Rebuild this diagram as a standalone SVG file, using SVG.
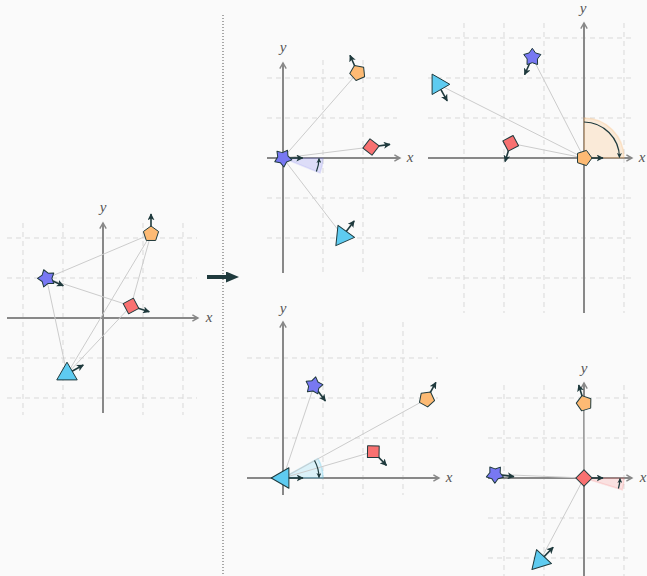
<svg xmlns="http://www.w3.org/2000/svg" xmlns:xlink="http://www.w3.org/1999/xlink" width="647" height="576" viewBox="0 0 647 576">
<style>
.grid{stroke:#d9d9d9;stroke-width:1;stroke-dasharray:5 4;fill:none}
.axis{stroke:#888;stroke-width:2;fill:none;marker-end:url(#axhead)}
.lbl{font-family:"Liberation Serif","DejaVu Serif",serif;font-style:italic;font-size:15px;fill:#555;text-anchor:middle}
.conn{stroke:#cccccc;stroke-width:1;fill:none}
.head{stroke:#1f3a3d;stroke-width:1.6;fill:none;marker-end:url(#hd)}
.arc{stroke:#1f3a3d;stroke-width:1.2;fill:none;marker-end:url(#arch)}
.sh{stroke:#1f3a3d;stroke-width:1;stroke-linejoin:round}
.pent{fill:#fdba74}.star{fill:#7878f2}.dia{fill:#f87171}.tri{fill:#5ecbf0}
</style>
<defs>
<marker id="axhead" viewBox="0 0 10 10" refX="8" refY="5" markerWidth="8" markerHeight="8" markerUnits="userSpaceOnUse" orient="auto"><path d="M1,1 L8,5 L1,9" fill="none" stroke="#888" stroke-width="1.8"/></marker>
<marker id="hd" viewBox="0 0 10 10" refX="9" refY="5" markerWidth="7" markerHeight="7" markerUnits="userSpaceOnUse" orient="auto"><path d="M0,0 L10,5 L0,10 L2.5,5 z" fill="#1f3a3d"/></marker>
<marker id="arch" viewBox="0 0 10 10" refX="9" refY="5" markerWidth="5" markerHeight="5" markerUnits="userSpaceOnUse" orient="auto"><path d="M0,0 L10,5 L0,10 L2.5,5 z" fill="#1f3a3d"/></marker>
<marker id="bighd" viewBox="0 0 10 10" refX="0" refY="5" markerWidth="13" markerHeight="11" markerUnits="userSpaceOnUse" orient="auto" preserveAspectRatio="none"><path d="M0,0 L10,5 L0,10 z" fill="#1f3a3d"/></marker>
<polygon id="pent" class="sh pent" points="0,-8 7.61,-2.47 4.7,6.47 -4.7,6.47 -7.61,-2.47"/>
<polygon id="star" class="sh star" points="0,-9 3.17,-4.37 8.56,-2.78 5.14,1.67 5.29,7.28 0,5.4 -5.29,7.28 -5.14,1.67 -8.56,-2.78 -3.17,-4.37"/>
<rect id="dia" class="sh dia" x="-5.8" y="-5.8" width="11.6" height="11.6"/>
<polygon id="tri" class="sh tri" points="0,-11.8 10.22,5.9 -10.22,5.9"/>
</defs>
<rect width="647" height="576" fill="#fafafa"/>

<!-- separator and transition arrow -->
<line x1="223" y1="15" x2="223" y2="576" stroke="#555" stroke-width="1" stroke-dasharray="1 2"/>
<line x1="207" y1="277" x2="226" y2="277" stroke="#1f3a3d" stroke-width="4" marker-end="url(#bighd)"/>

<!-- LEFT FRAME -->
<g id="frame-left">
<path class="grid" d="M23,223V415M63,223V415M143,223V415M183,223V415M7,238H197M7,278H197M7,358H197M7,398H197"/>
<line class="axis" x1="7" y1="318" x2="198" y2="318"/>
<line class="axis" x1="103" y1="413" x2="103" y2="223"/>
<text class="lbl" x="103" y="212">y</text>
<text class="lbl" x="209" y="322">x</text>
</g>

<!-- TOP-MIDDLE FRAME -->
<g id="frame-star">
<path class="grid" d="M323,60V273M363,60V273M267,78H397M267,118H397M267,198H397M267,238H397"/>
<line class="axis" x1="267" y1="158" x2="400" y2="158"/>
<line class="axis" x1="283" y1="273" x2="283" y2="63"/>
<text class="lbl" x="283" y="52">y</text>
<text class="lbl" x="410" y="162">x</text>
<path d="M283,158 L323,158 A40,40 0 0 1 320.1,173 Z" fill="#7878f2" fill-opacity="0.22" stroke="#7878f2" stroke-opacity="0.15" stroke-width="1.5"/>
</g>

<!-- TOP-RIGHT FRAME -->
<g id="frame-pent">
<path class="grid" d="M464,23V313M504,23V313M544,23V313M624,23V313M428,38H632M428,78H632M428,118H632M428,198H632M428,238H632M428,278H632"/>
<line class="axis" x1="428" y1="158" x2="632" y2="158"/>
<line class="axis" x1="584" y1="313" x2="584" y2="23"/>
<text class="lbl" x="583" y="13">y</text>
<text class="lbl" x="642" y="162">x</text>
<path d="M584,158 L584,118 A40,40 0 0 1 624,158 Z" fill="#fdba74" fill-opacity="0.25" stroke="#fdba74" stroke-opacity="0.3" stroke-width="1.5"/>
</g>

<!-- BOTTOM-MIDDLE FRAME -->
<g id="frame-tri">
<path class="grid" d="M323,322V495M363,322V495M403,322V495M247,358H438M247,398H438M247,438H438"/>
<line class="axis" x1="247" y1="478" x2="439" y2="478"/>
<line class="axis" x1="283" y1="495" x2="283" y2="322"/>
<text class="lbl" x="283" y="313">y</text>
<text class="lbl" x="449" y="482">x</text>
<path d="M283,478 L318,458.6 A40,40 0 0 1 323,478 Z" fill="#5ecbf0" fill-opacity="0.2" stroke="#5ecbf0" stroke-opacity="0.3" stroke-width="1.5"/>
</g>

<!-- BOTTOM-RIGHT FRAME -->
<g id="frame-dia">
<path class="grid" d="M504,385V576M544,385V576M624,385V576M488,398H632M488,438H632M488,518H632M488,558H632"/>
<line class="axis" x1="488" y1="478" x2="632" y2="478"/>
<line class="axis" x1="584" y1="576" x2="584" y2="383"/>
<text class="lbl" x="584" y="373">y</text>
<text class="lbl" x="643" y="482">x</text>
<path d="M584,478 L624,478 A40,40 0 0 1 622.3,489.7 Z" fill="#f87171" fill-opacity="0.18" stroke="#f87171" stroke-opacity="0.2" stroke-width="1.5"/>
</g>

<g id="connectors">
<path class="conn" d="M151,234L46.5,278.3M151,234L131,306M151,234L67,374M46.5,278.3L131,306M46.5,278.3L67,374M131,306L67,374"/>
<path class="conn" d="M283,158L357.7,72.7M283,158L371,147M283,158L342.8,236.1"/>
<path class="conn" d="M584,158L532.3,57.3M584,158L438,84.3M584,158L510.7,143.3"/>
<path class="conn" d="M283,478L314,385.7M283,478L426.7,399M283,478L373.3,451.7"/>
<path class="conn" d="M584,478L584.3,403.3M584,478L495,474.3M584,478L540,560.9"/>
</g>

<g id="angle-arcs">
<path class="arc" d="M316.4,171.5 A36,36 0 0 0 319,158.5"/>
<path class="arc" d="M584,122 A36,36 0 0 1 619.5,157.5"/>
<path class="arc" d="M314.5,460.5 A36,36 0 0 1 319,477.5"/>
<path class="arc" d="M618.4,488.5 A36,36 0 0 0 620,478.5"/>
</g>

<g id="left-pentagon"><line class="head" x1="151" y1="234" x2="151" y2="214"/><use href="#pent" transform="translate(151,234)"/></g>
<g id="left-star"><line class="head" x1="46.5" y1="278.3" x2="63.3" y2="285.7"/><use href="#star" transform="translate(46.5,278.3) rotate(-18)"/></g>
<g id="left-diamond"><line class="head" x1="131" y1="306" x2="149.3" y2="311.7"/><use href="#dia" transform="translate(131,306) rotate(-28)"/></g>
<g id="left-triangle"><line class="head" x1="67" y1="374" x2="83.3" y2="365"/><use href="#tri" transform="translate(67,374)"/></g>

<g id="tm-star"><line class="head" x1="283" y1="158" x2="302.7" y2="158"/><use href="#star" transform="translate(283,158) rotate(-42)"/></g>
<g id="tm-pentagon"><line class="head" x1="357.7" y1="72.7" x2="350" y2="55.3"/><use href="#pent" transform="translate(357.7,72.7) rotate(-24)"/></g>
<g id="tm-diamond"><line class="head" x1="371" y1="147" x2="390" y2="144.4"/><use href="#dia" transform="translate(371,147) rotate(38)"/></g>
<g id="tm-triangle"><line class="head" x1="342.8" y1="236.1" x2="354.2" y2="220.9"/><use href="#tri" transform="translate(342.8,236.1) rotate(-24)"/></g>

<g id="tr-pentagon"><line class="head" x1="584" y1="158" x2="603" y2="158"/><use href="#pent" transform="translate(584,158) rotate(90)"/></g>
<g id="tr-star"><line class="head" x1="532.3" y1="57.3" x2="524.6" y2="74.7"/><use href="#star" transform="translate(532.3,57.3)"/></g>
<g id="tr-triangle"><line class="head" x1="438" y1="84.3" x2="447.2" y2="100.9"/><use href="#tri" transform="translate(438,84.3) rotate(90)"/></g>
<g id="tr-diamond"><line class="head" x1="510.7" y1="143.3" x2="505.1" y2="161.5"/><use href="#dia" transform="translate(510.7,143.3) rotate(-28)"/></g>

<g id="bm-triangle"><line class="head" x1="283" y1="478" x2="303" y2="478"/><use href="#tri" transform="translate(283,478) rotate(30)"/></g>
<g id="bm-star"><line class="head" x1="314" y1="385.7" x2="325.4" y2="400.9"/><use href="#star" transform="translate(314,385.7) rotate(11)"/></g>
<g id="bm-pentagon"><line class="head" x1="426.7" y1="399" x2="435.9" y2="382.4"/><use href="#pent" transform="translate(426.7,399) rotate(29)"/></g>
<g id="bm-diamond"><line class="head" x1="373.3" y1="451.7" x2="386.5" y2="465.4"/><use href="#dia" transform="translate(373.3,451.7) rotate(1)"/></g>

<g id="br-diamond"><line class="head" x1="584" y1="478" x2="603" y2="478"/><use href="#dia" transform="translate(584,478) rotate(45)"/></g>
<g id="br-pentagon"><line class="head" x1="584.3" y1="403.3" x2="578.7" y2="385.1"/><use href="#pent" transform="translate(584.3,403.3) rotate(-17)"/></g>
<g id="br-star"><line class="head" x1="495" y1="474.3" x2="513.9" y2="476.6"/><use href="#star" transform="translate(495,474.3) rotate(-35)"/></g>
<g id="br-triangle"><line class="head" x1="540" y1="560.9" x2="553.2" y2="547.2"/><use href="#tri" transform="translate(540,560.9) rotate(-17)"/></g>
</svg>
